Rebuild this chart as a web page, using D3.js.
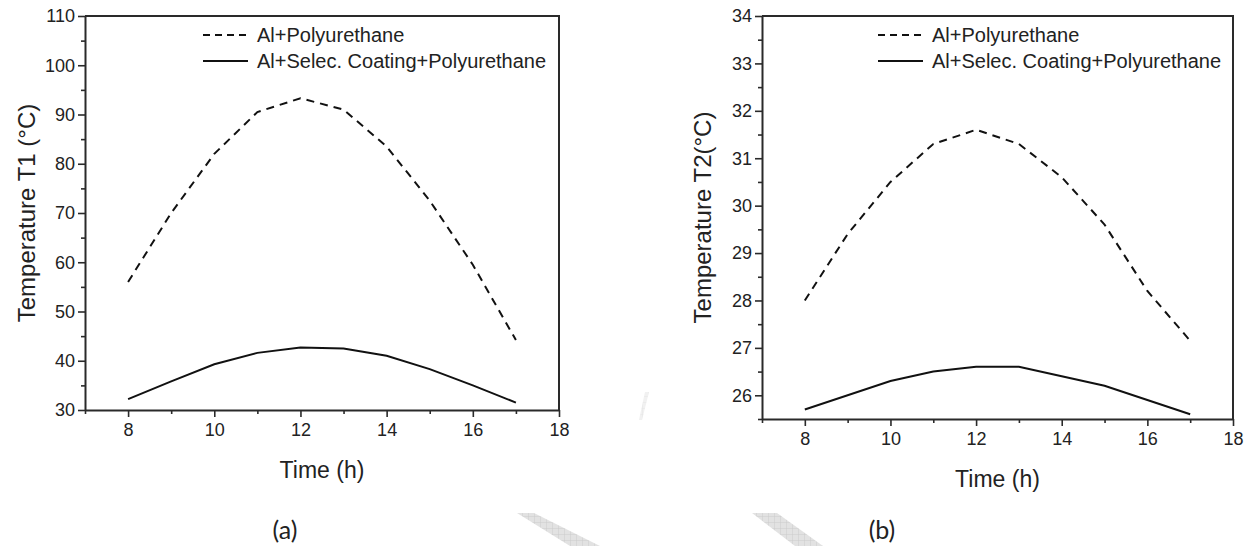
<!DOCTYPE html>
<html>
<head>
<meta charset="utf-8">
<script src="https://cdn.jsdelivr.net/npm/d3@7"></script>
<style>
  html, body { margin: 0; padding: 0; background: #fff; }
  svg { display: block; }
  text { font-family: "Liberation Sans", Arial, sans-serif; fill: #222; }
</style>
</head>
<body>
<svg id="chart" width="1251" height="546"></svg>
<script>
// ---- data ----
const hours = [8, 9, 10, 11, 12, 13, 14, 15, 16, 17];
const seriesNames = ["Al+Polyurethane", "Al+Selec. Coating+Polyurethane"];
const t1Polyurethane = [56, 70, 82, 90.5, 93.3, 91, 83.5, 72.5, 59.5, 44.2];
const t1Coating = [32.2, 35.8, 39.3, 41.6, 42.7, 42.5, 41.0, 38.3, 35.0, 31.5];
const t2Polyurethane = [28.0, 29.4, 30.5, 31.3, 31.6, 31.3, 30.6, 29.6, 28.2, 27.15];
const t2Coating = [25.7, 26.0, 26.3, 26.5, 26.6, 26.6, 26.4, 26.2, 25.9, 25.6];
const xTicks = [8, 10, 12, 14, 16, 18];
const t1Ticks = [30, 40, 50, 60, 70, 80, 90, 100, 110];
const t2Ticks = [26, 27, 28, 29, 30, 31, 32, 33, 34];
const xTitle = "Time (h)";
const yTitles = ["Temperature T1 (°C)", "Temperature T2(°C)"];
const panelLabels = ["(a)", "(b)"];

const svg = d3.select("#chart");

const panels = [
  { box: [85, 559, 16, 410], xDom: [7, 18], yDom: [30, 110], yTicks: t1Ticks, yMinorStep: 5,
    dashed: t1Polyurethane, solid: t1Coating, yTitle: yTitles[0], yTitleX: 27, label: panelLabels[0], labelX: 285,
    legendX: 203 },
  { box: [762, 1233, 16, 419], xDom: [7, 18], yDom: [25.5, 34], yTicks: t2Ticks, yMinorStep: 0.5,
    dashed: t2Polyurethane, solid: t2Coating, yTitle: yTitles[1], yTitleX: 703, label: panelLabels[1], labelX: 882,
    legendX: 878 }
];

const axisColor = "#2a2a2a";

panels.forEach(p => {
  const [x0, x1, y0, y1] = p.box;
  const x = d3.scaleLinear().domain(p.xDom).range([x0, x1]);
  const y = d3.scaleLinear().domain(p.yDom).range([y1, y0]);
  const g = svg.append("g");

  // frame (top and right)
  g.append("path")
    .attr("d", `M${x0},${y0}H${x1}V${y1}`)
    .attr("fill", "none").attr("stroke", axisColor).attr("stroke-width", 2);

  // minor ticks
  const xMinor = d3.range(p.xDom[0], p.xDom[1] + 0.001, 1).filter(v => !xTicks.includes(v));
  const yMinor = d3.range(p.yDom[0], p.yDom[1] + 0.0001, p.yMinorStep)
    .filter(v => !p.yTicks.some(t => Math.abs(t - v) < 1e-6));

  const xAxisMinor = d3.axisBottom(x).tickValues(xMinor).tickSize(4).tickFormat("");
  const yAxisMinor = d3.axisLeft(y).tickValues(yMinor).tickSize(4).tickFormat("");
  g.append("g").attr("transform", `translate(0,${y1})`).call(xAxisMinor)
    .call(s => s.select(".domain").remove())
    .selectAll("line").attr("stroke", axisColor).attr("stroke-width", 1.6);
  g.append("g").attr("transform", `translate(${x0},0)`).call(yAxisMinor)
    .call(s => s.select(".domain").remove())
    .selectAll("line").attr("stroke", axisColor).attr("stroke-width", 1.6);

  // major axes
  const xAxis = d3.axisBottom(x).tickValues(xTicks).tickSize(7).tickSizeOuter(0).tickPadding(6)
    .tickFormat(d3.format("d"));
  const yAxis = d3.axisLeft(y).tickValues(p.yTicks).tickSize(7).tickSizeOuter(0).tickPadding(3)
    .tickFormat(d3.format("d"));

  const gx = g.append("g").attr("transform", `translate(0,${y1})`).call(xAxis);
  gx.select(".domain").attr("stroke", axisColor).attr("stroke-width", 2);
  gx.selectAll(".tick line").attr("stroke", axisColor).attr("stroke-width", 1.6);
  gx.selectAll(".tick text").attr("font-size", 18).attr("font-family", "Liberation Sans, Arial, sans-serif").attr("fill", "#222");

  const gy = g.append("g").attr("transform", `translate(${x0},0)`).call(yAxis);
  gy.select(".domain").attr("stroke", axisColor).attr("stroke-width", 2);
  gy.selectAll(".tick line").attr("stroke", axisColor).attr("stroke-width", 1.6);
  gy.selectAll(".tick text").attr("font-size", 18).attr("font-family", "Liberation Sans, Arial, sans-serif").attr("fill", "#222");

  // lines
  const line = d3.line().x((d, i) => x(hours[i])).y(d => y(d));
  g.append("path").datum(p.dashed).attr("d", line)
    .attr("fill", "none").attr("stroke", "#111").attr("stroke-width", 2)
    .attr("stroke-dasharray", "8,6");
  g.append("path").datum(p.solid).attr("d", line)
    .attr("fill", "none").attr("stroke", "#111").attr("stroke-width", 2);

  // legend
  const lx = p.legendX, ly1 = 35, ly2 = 61;
  g.append("line").attr("x1", lx).attr("x2", lx + 45).attr("y1", ly1).attr("y2", ly1)
    .attr("stroke", "#111").attr("stroke-width", 2).attr("stroke-dasharray", "7,5");
  g.append("line").attr("x1", lx).attr("x2", lx + 45).attr("y1", ly2).attr("y2", ly2)
    .attr("stroke", "#111").attr("stroke-width", 2);
  g.append("text").attr("x", lx + 54).attr("y", ly1).attr("dy", "0.35em")
    .attr("font-size", 20).text(seriesNames[0]);
  g.append("text").attr("x", lx + 54).attr("y", ly2).attr("dy", "0.35em")
    .attr("font-size", 20).text(seriesNames[1]);

  // titles
  g.append("text").attr("x", (x0 + x1) / 2).attr("y", y1 + 68)
    .attr("text-anchor", "middle").attr("font-size", 23).text(xTitle);
  g.append("text").attr("transform", `translate(${p.yTitleX},${(y0 + y1) / 2}) rotate(-90)`)
    .attr("text-anchor", "middle").attr("dy", "0.35em").attr("font-size", 24).text(p.yTitle);

  // panel label
  svg.append("text").attr("x", p.labelX).attr("y", 530).attr("dy", "0.35em")
    .attr("text-anchor", "middle").attr("font-size", 25)
    .style("font-family", "Lato, 'Open Sans', sans-serif").text(p.label);
});

// watermark fragments (light hatched shapes)
const defs = svg.append("defs");
const pat = defs.append("pattern").attr("id", "hatch").attr("width", 6).attr("height", 6)
  .attr("patternUnits", "userSpaceOnUse");
pat.append("rect").attr("width", 6).attr("height", 6).attr("fill", "#e2e2e2");
pat.append("path").attr("d", "M0,0H6M0,0V6").attr("stroke", "#cccccc").attr("stroke-width", 1);
const wm = [
  [[517, 513], [534, 513], [600, 546], [570, 546]],
  [[752, 513], [777, 513], [823, 546], [795, 546]],
  [[645, 392], [649, 392], [642, 420], [639, 420]]
];
svg.selectAll(".wm").data(wm).enter().append("path").attr("class", "wm")
  .attr("d", d => "M" + d.join("L") + "Z").attr("fill", "url(#hatch)").attr("opacity", (d, i) => i === 2 ? 0.5 : 1);
</script>
</body>
</html>
